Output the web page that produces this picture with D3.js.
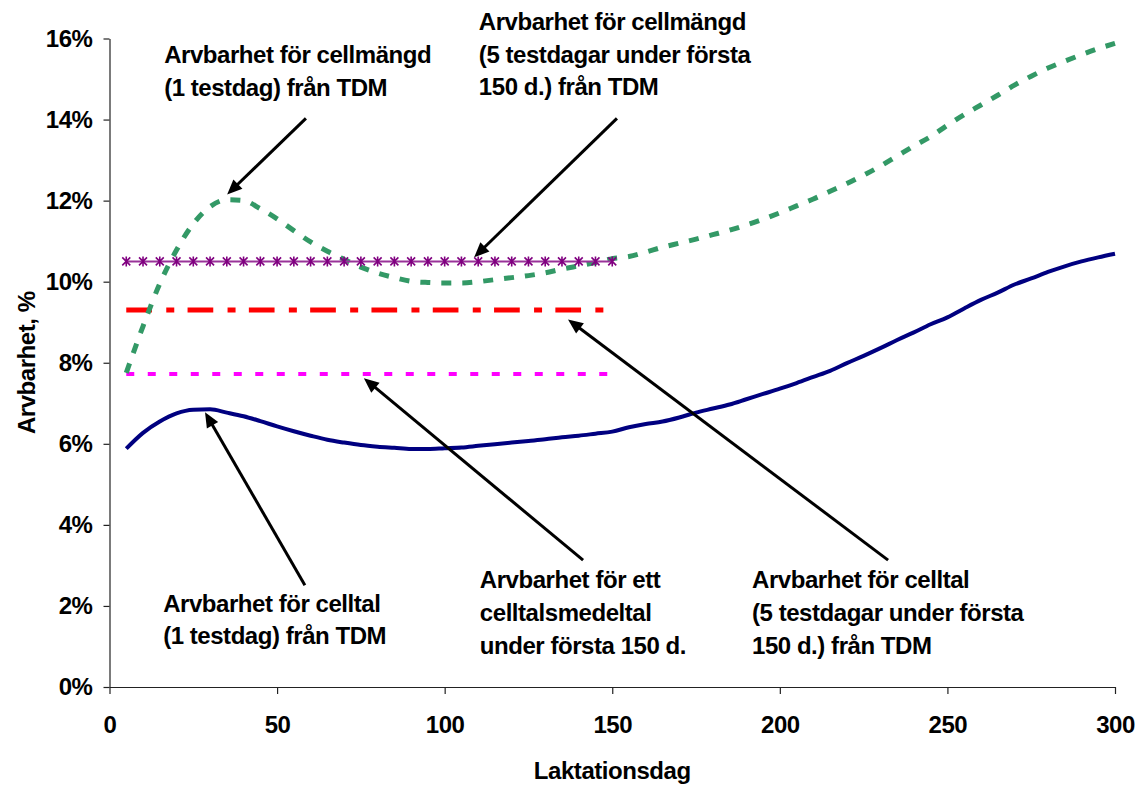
<!DOCTYPE html>
<html>
<head>
<meta charset="utf-8">
<script src="https://cdn.jsdelivr.net/npm/d3@7"></script>
<style>
  body { margin: 0; background: #fff; }
  svg text { font-family: "Liberation Sans", Arial, sans-serif; font-weight: bold; fill: #000; letter-spacing: -0.45px; }
</style>
</head>
<body>
<div id="chart"></div>
<script>
// Lactation days (x values)
const days = [5, 10, 15, 20, 25, 30, 35, 40, 45, 50, 55, 60, 65, 70, 75, 80, 85, 90, 95, 100,
  105, 110, 115, 120, 125, 130, 135, 140, 145, 150, 155, 160, 165, 170, 175, 180, 185, 190, 195, 200,
  205, 210, 215, 220, 225, 230, 235, 240, 245, 250, 255, 260, 265, 270, 275, 280, 285, 290, 295, 300];

// Heritability, cell count (1 test day) from TDM, %
const celltal1 = [5.88, 6.27, 6.55, 6.75, 6.84, 6.85, 6.77, 6.68, 6.56, 6.43, 6.31, 6.20, 6.10, 6.03, 5.97, 5.93, 5.90, 5.87, 5.87, 5.89,
  5.91, 5.95, 5.99, 6.03, 6.07, 6.11, 6.16, 6.20, 6.25, 6.30, 6.41, 6.49, 6.55, 6.65, 6.77, 6.87, 6.97, 7.10, 7.23, 7.36,
  7.50, 7.65, 7.80, 7.99, 8.17, 8.36, 8.56, 8.75, 8.95, 9.12, 9.34, 9.55, 9.73, 9.93, 10.08, 10.24, 10.38, 10.50, 10.60, 10.69];

// Heritability, cell amount (1 test day) from TDM, %
const cellmangd1 = [7.75, 8.90, 9.95, 10.78, 11.43, 11.85, 12.02, 12.00, 11.80, 11.55, 11.26, 10.98, 10.75, 10.55, 10.36, 10.21, 10.10, 10.01, 9.98, 9.97,
  9.97, 10.00, 10.05, 10.10, 10.15, 10.22, 10.31, 10.39, 10.47, 10.57, 10.62, 10.73, 10.85, 10.95, 11.05, 11.16, 11.27, 11.40, 11.54, 11.70,
  11.87, 12.04, 12.23, 12.42, 12.63, 12.85, 13.10, 13.35, 13.58, 13.86, 14.12, 14.36, 14.60, 14.85, 15.07, 15.27, 15.44, 15.60, 15.75, 15.88];

// Constant estimates over the first 150 days
const first150 = [5, 10, 15, 20, 25, 30, 35, 40, 45, 50, 55, 60, 65, 70, 75,
  80, 85, 90, 95, 100, 105, 110, 115, 120, 125, 130, 135, 140, 145, 150];
const cellmangd5 = 10.5;   // 5 test days, cell amount
const celltal5 = 9.3;      // 5 test days, cell count
const medeltal = 7.72;     // mean cell count first 150 d.

const yTicks = [0, 2, 4, 6, 8, 10, 12, 14, 16];
const xTicks = [0, 50, 100, 150, 200, 250, 300];

// Annotation texts, anchor [day, %] and arrow [from, to] in data units
const notes = [
  {lines: ["Arvbarhet för cellmängd", "(1 testdag) från TDM"], at: [16.3, 15.39], arrow: [[58.6, 14.03], [35.1, 12.15]]},
  {lines: ["Arvbarhet för cellmängd", "(5 testdagar under första", "150 d.) från TDM"], at: [110.2, 16.21], arrow: [[151.4, 14.03], [108.8, 10.6]]},
  {lines: ["Arvbarhet för celltal", "(1 testdag) från TDM"], at: [16.0, 1.86], arrow: [[58.3, 2.51], [28.5, 6.78]]},
  {lines: ["Arvbarhet för ett", "celltalsmedeltal", "under första 150 d."], at: [110.5, 2.44], arrow: [[141.3, 3.13], [75.9, 7.62]]},
  {lines: ["Arvbarhet för celltal", "(5 testdagar under första", "150 d.) från TDM"], at: [191.7, 2.44], arrow: [[232.3, 3.13], [136.8, 9.07]]}
];

const width = 1143, height = 786;
const margin = {top: 38.5, right: 28, bottom: 99, left: 109.5};
const fontSize = "24px";

const svg = d3.select("#chart").append("svg")
    .attr("width", width)
    .attr("height", height);

svg.append("rect").attr("width", width).attr("height", height).attr("fill", "#fff");

const x = d3.scaleLinear().domain([0, 300]).range([margin.left, width - margin.right]);
const y = d3.scaleLinear().domain([0, 16]).range([height - margin.bottom, margin.top]);

// Axes
const xAxis = svg.append("g")
    .attr("transform", `translate(0,${height - margin.bottom})`)
    .call(d3.axisBottom(x).tickValues(xTicks).tickSize(7).tickSizeOuter(0).tickPadding(22));

const yAxis = svg.append("g")
    .attr("transform", `translate(${margin.left},0)`)
    .call(d3.axisLeft(y).tickValues(yTicks).tickSize(6).tickSizeOuter(0).tickPadding(11).tickFormat(d => d + "%"));

[xAxis, yAxis].forEach(g => {
  g.selectAll("path, line").attr("stroke", "#222").attr("stroke-width", 1.2);
  g.selectAll("text").style("font-size", fontSize).style("font-family", "'Liberation Sans', Arial, sans-serif").style("font-weight", "bold");
});

// Axis titles
svg.append("text")
    .attr("x", x(150))
    .attr("y", 779)
    .attr("text-anchor", "middle")
    .style("font-size", fontSize)
    .text("Laktationsdag");

svg.append("text")
    .attr("transform", `translate(35,${(y(0) + y(16)) / 2}) rotate(-90)`)
    .attr("text-anchor", "middle")
    .style("font-size", fontSize)
    .text("Arvbarhet, %");

// Horizontal constant lines
const flat = (v) => d3.line().x(d => x(d)).y(() => y(v))(first150);

svg.append("path")
    .attr("d", flat(medeltal))
    .attr("fill", "none")
    .attr("stroke", "#ff00ff")
    .attr("stroke-width", 4)
    .attr("stroke-dasharray", "8,13.5");

svg.append("path")
    .attr("d", flat(celltal5))
    .attr("fill", "none")
    .attr("stroke", "#ff0000")
    .attr("stroke-width", 5)
    .attr("stroke-dasharray", "25.7,14.3,8,13.3");

// Curves
const curve = d3.line().x((d, i) => x(days[i])).y(d => y(d)).curve(d3.curveMonotoneX);

svg.append("path")
    .attr("d", curve(cellmangd1))
    .attr("fill", "none")
    .attr("stroke", "#339966")
    .attr("stroke-width", 5)
    .attr("stroke-dasharray", "10,11");

svg.append("path")
    .attr("d", curve(celltal1))
    .attr("fill", "none")
    .attr("stroke", "#000080")
    .attr("stroke-width", 4);

// Star-marked line
svg.append("path")
    .attr("d", flat(cellmangd5))
    .attr("fill", "none")
    .attr("stroke", "#993399")
    .attr("stroke-width", 2);

svg.append("g").selectAll("path")
    .data(first150)
    .enter()
    .append("path")
    .attr("transform", d => `translate(${x(d)},${y(cellmangd5)})`)
    .attr("d", "M-4,-4L4,4M-4,4L4,-4M0,-5L0,5")
    .attr("stroke", "#800080")
    .attr("stroke-width", 1.6)
    .attr("fill", "none");

// Annotations
const lineGap = 32.7;
const notesG = svg.append("g");

notes.forEach(n => {
  const t = notesG.append("text")
      .attr("x", x(n.at[0]))
      .attr("y", y(n.at[1]))
      .style("font-size", fontSize);
  n.lines.forEach((l, i) => {
    t.append("tspan").attr("x", x(n.at[0])).attr("dy", i === 0 ? 0 : lineGap).text(l);
  });

  const [p0, p1] = n.arrow;
  const x0 = x(p0[0]), y0 = y(p0[1]), x1 = x(p1[0]), y1 = y(p1[1]);
  const ang = Math.atan2(y1 - y0, x1 - x0);
  const head = 15, half = 6.5;
  notesG.append("line")
      .attr("x1", x0).attr("y1", y0)
      .attr("x2", x1 - Math.cos(ang) * (head - 2)).attr("y2", y1 - Math.sin(ang) * (head - 2))
      .attr("stroke", "#000")
      .attr("stroke-width", 3);
  const bx = x1 - Math.cos(ang) * head, by = y1 - Math.sin(ang) * head;
  notesG.append("path")
      .attr("d", `M${x1},${y1}L${bx - Math.sin(ang) * half},${by + Math.cos(ang) * half}L${bx + Math.sin(ang) * half},${by - Math.cos(ang) * half}Z`)
      .attr("fill", "#000");
});
</script>
</body>
</html>
